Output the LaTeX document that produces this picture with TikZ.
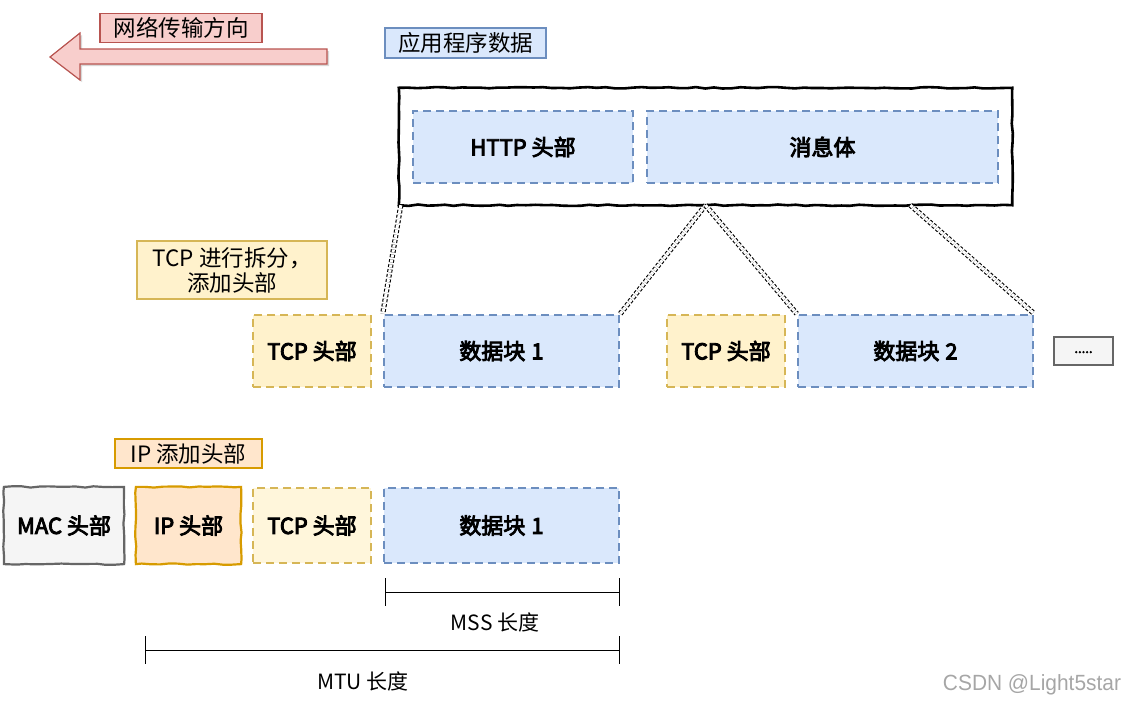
\documentclass[tikz,border=0pt]{standalone}
\usepackage{fontspec}
\setmainfont{Noto Sans CJK SC}
\newfontfamily\boldcjk[FakeBold=4]{Noto Sans CJK SC}
\newfontfamily\markfont[FakeStretch=0.95]{Liberation Sans}
\usetikzlibrary{calc,decorations.pathmorphing,shadows}

\definecolor{blueFill}{HTML}{DAE8FC}
\definecolor{blueLine}{HTML}{6C8EBF}
\definecolor{yellowFill}{HTML}{FFF2CC}
\definecolor{yellowLine}{HTML}{D6B656}
\definecolor{orangeFill}{HTML}{FFE6CC}
\definecolor{orangeLine}{HTML}{D79B00}
\definecolor{redFill}{HTML}{F8CECC}
\definecolor{redLine}{HTML}{B85450}
\definecolor{greyFill}{HTML}{F5F5F5}
\definecolor{greyLine}{HTML}{666666}

\tikzset{
  x=1pt, y=-1pt,
  note/.style={draw, line width=1.3pt, inner sep=0pt, align=center,
    font=\fontsize{22.5}{27}\selectfont},
  bluenote/.style={note, fill=blueFill, draw=blueLine},
  rednote/.style={note, fill=redFill, draw=redLine},
  yellownote/.style={note, fill=yellowFill, draw=yellowLine},
  orangenote/.style={note, fill=orangeFill, draw=orangeLine},
  packet/.style={inner sep=0pt, font=\boldcjk\fontsize{22}{26}\selectfont},
  dashpart/.style={packet, line width=2.5pt, dash pattern=on 8pt off 5pt},
  bluepart/.style={dashpart, fill=blueFill, draw=blueLine},
  yellowpart/.style={dashpart, fill=yellowFill, draw=yellowLine},
  sketch/.style={decorate, decoration={random steps, segment length=9pt, amplitude=0.7pt}},
  sketchbox/.style={packet, line width=2.2pt},
  split/.style={draw=black, line width=1.1pt, double=white, double distance=3pt,
    dash pattern=on 3pt off 2pt},
  measure/.style={line width=1pt},
  spanlabel/.style={font=\fontsize{21}{24}\selectfont},
}

\begin{document}
\begin{tikzpicture}
\useasboundingbox (0,0) rectangle (1125,704);
\pgfmathsetseed{7}

% direction of travel on the network
\draw[fill=redFill, draw=redLine, line width=1.2pt,
      drop shadow={shadow xshift=2pt, shadow yshift=-2pt, fill=black!30}]
  (327,49) -- (80,49) -- (80,33) -- (50,57) -- (80,80) -- (80,64) -- (327,64) -- cycle;
\node[rednote, minimum width=162, minimum height=29] (dir) at (181,28) {网络传输方向};

% application data
\node[bluenote, minimum width=161, minimum height=30] (app) at (465.5,43) {应用程序数据};
\node[minimum width=613, minimum height=117, inner sep=0pt] (msg) at (705.5,146.5) {};
\draw[line width=2.6pt, sketch] (msg.north west) -- (msg.north east) -- (msg.south east)
  -- (msg.south west) -- cycle;
\node[bluepart, minimum width=220, minimum height=72] (http) at (523,147) {HTTP 头部};
\node[bluepart, minimum width=351, minimum height=72] (body) at (822.5,147) {消息体};

% TCP segmentation
\node[yellownote, minimum width=190, minimum height=58] (tcpnote) at (232,270)
  {TCP 进行拆分，\\[-2pt]添加头部};
\node[yellowpart, minimum width=118, minimum height=72] (tcp1) at (312,351) {TCP 头部};
\node[bluepart, minimum width=235, minimum height=72] (data1) at (501.5,351) {数据块\hspace{6pt}1};
\node[yellowpart, minimum width=118, minimum height=72] (tcp2) at (726,351) {TCP 头部};
\node[bluepart, minimum width=235, minimum height=72] (data2) at (915.5,351) {数据块\hspace{6pt}2};
\node[draw=greyLine, fill=greyFill, line width=1.3pt, minimum width=59, minimum height=28,
      inner sep=0pt, font=\boldcjk\fontsize{13}{14}\selectfont] (more) at (1083.5,351)
  {\raisebox{-4pt}{.....}};

% where the body is cut into segments
\coordinate (cutL) at ($(msg.south west)+(2,0)$);
\coordinate (cutM) at (msg.south);
\coordinate (cutR) at ($(msg.south west)!0.834!(msg.south east)$);
\draw[split] (cutL) -- (data1.north west);
\draw[split] (cutM) -- (data1.north east);
\draw[split] (cutM) -- (data2.north west);
\draw[split] (cutR) -- (data2.north east);

% IP layer
\node[orangenote, minimum width=147, minimum height=29] (ipnote) at (188.5,453.5) {IP 添加头部};
\node[sketchbox, minimum width=118, minimum height=75] (mac) at (64,525.5) {MAC 头部};
\draw[draw=greyLine, fill=greyFill, line width=2.2pt, sketch]
  (mac.north west) -- (mac.north east) -- (mac.south east) -- (mac.south west) -- cycle;
\node[packet] at (mac) {MAC 头部};
\node[sketchbox, minimum width=103, minimum height=75] (ip) at (188.5,525.5) {IP 头部};
\draw[draw=orangeLine, fill=orangeFill, line width=2.2pt, sketch]
  (ip.north west) -- (ip.north east) -- (ip.south east) -- (ip.south west) -- cycle;
\node[packet] at (ip) {IP 头部};
\node[yellowpart, fill=yellowFill!70, minimum width=118, minimum height=75] (tcp3) at (312,525.5) {TCP 头部};
\node[bluepart, minimum width=235, minimum height=75] (data3) at (501.5,525.5) {数据块\hspace{6pt}1};

% MSS and MTU spans
\coordinate (mssL) at (385,592);
\coordinate (mssR) at (619,592);
\draw[measure] (mssL) -- (mssR);
\draw[measure] ($(mssL)+(0,-14)$) -- ($(mssL)+(0,14)$);
\draw[measure] ($(mssR)+(0,-14)$) -- ($(mssR)+(0,14)$);
\node[spanlabel] (mss) at (495,622) {MSS 长度};

\coordinate (mtuL) at (145,650);
\coordinate (mtuR) at (619,650);
\draw[measure] (mtuL) -- (mtuR);
\draw[measure] ($(mtuL)+(0,-14)$) -- ($(mtuL)+(0,14)$);
\draw[measure] ($(mtuR)+(0,-14)$) -- ($(mtuR)+(0,14)$);
\node[spanlabel] (mtu) at (363,681) {MTU 长度};

\node[text=black!35, font=\markfont\fontsize{22}{24}\selectfont] (mark) at (1032,685) {CSDN @Light5star};
\end{tikzpicture}
\end{document}
